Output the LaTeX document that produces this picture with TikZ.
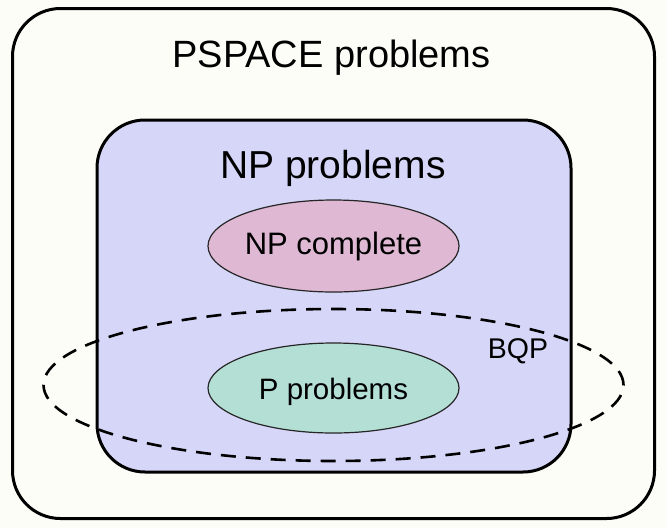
\documentclass[tikz,border=0pt]{standalone}
\usepackage{fontspec}
\setmainfont{Liberation Sans}
\usetikzlibrary{shapes.geometric}
\definecolor{bgcream}{HTML}{FDFDF7}
\definecolor{nplav}{HTML}{D6D6F8}
\definecolor{npcpink}{HTML}{DFB8D4}
\definecolor{pteal}{HTML}{B3DFD5}
\tikzset{
  setbox/.style={draw=black, line width=3pt, rounded corners=48pt, inner sep=0pt, outer sep=0pt},
  classell/.style={ellipse, draw=black!85, line width=1.2pt, inner sep=0pt, outer sep=0pt},
  bqpell/.style={ellipse, draw=black, line width=2.6pt, dash pattern=on 15pt off 10pt, inner sep=0pt, outer sep=0pt},
  lbl/.style={anchor=base, inner sep=0pt, outer sep=0pt, text=black},
}
\begin{document}
\begin{tikzpicture}[x=1pt, y=-1pt]
\fill[bgcream] (0,0) rectangle (666,528);
\useasboundingbox (0,0) rectangle (666,528);
\node[setbox, fill=bgcream, minimum width=642pt, minimum height=510pt] (pspace) at (333.5,263.5) {};
\node[setbox, fill=nplav, minimum width=474pt, minimum height=352pt] (np) at (334,296) {};
\node[classell, fill=npcpink, minimum width=251pt, minimum height=92pt] (npc) at (333.5,246) {};
\node[classell, fill=pteal, minimum width=251pt, minimum height=90pt] (p) at (333.5,388) {};
\node[bqpell, minimum width=580pt, minimum height=152pt] (bqp) at (333.5,385) {};
\node[lbl, font=\fontsize{38}{40}\selectfont] (pspacelbl) at (331.5,67) {PSPACE problems};
\node[lbl, font=\fontsize{39}{41}\selectfont] (nplbl) at (333,178) {NP problems};
\node[lbl, font=\fontsize{31}{33}\selectfont] (npclbl) at (333.5,254) {NP complete};
\node[lbl, font=\fontsize{29.5}{31}\selectfont] (plbl) at (333.5,399) {P problems};
\node[lbl, font=\fontsize{28.5}{30}\selectfont] (bqplbl) at (518,358) {BQP};
\end{tikzpicture}
\end{document}
